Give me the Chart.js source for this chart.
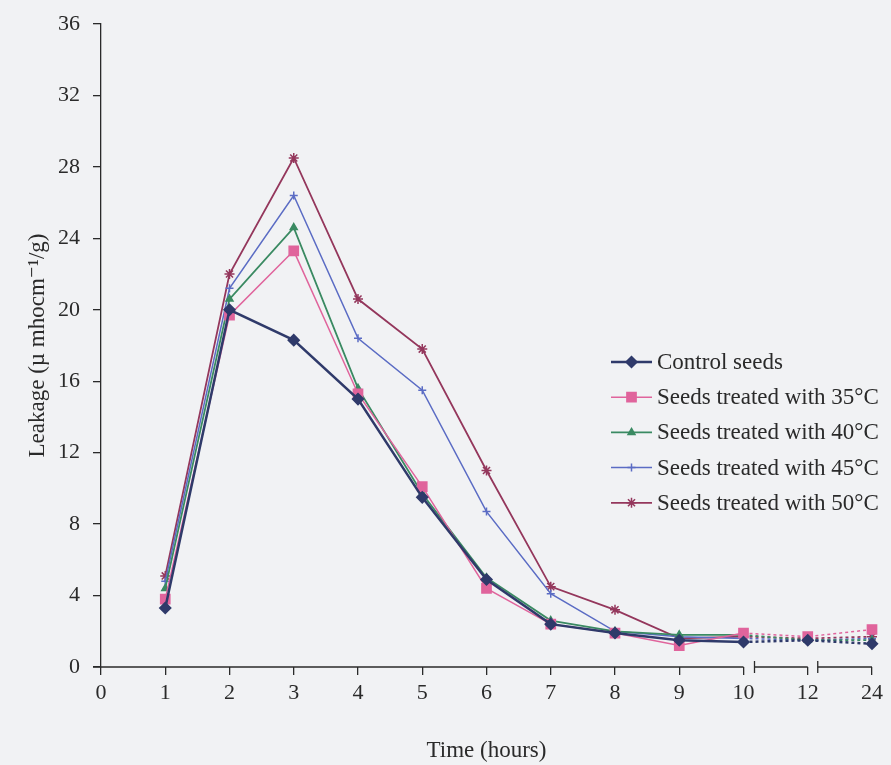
<!DOCTYPE html>
<html>
<head>
<meta charset="utf-8">
<script src="https://cdn.jsdelivr.net/npm/chart.js@4.4.1/dist/chart.umd.min.js"></script>
<style>
  html, body { margin: 0; padding: 0; background: #f1f2f4; }
  #wrap { width: 891px; height: 765px; }
</style>
</head>
<body>
<div id="wrap"><canvas id="chart" width="891" height="765"></canvas></div>
<script>
// time points (hours) - 0 is only an axis label, no data there
var timeLabels = ["0", "1", "2", "3", "4", "5", "6", "7", "8", "9", "10", "12", "24"];
var yTicks = [0, 4, 8, 12, 16, 20, 24, 28, 32, 36];

var controlSeeds = [null, 3.3, 20.0, 18.3, 15.0, 9.5, 4.9, 2.4, 1.9, 1.5, 1.4, 1.5, 1.3];
var treated35 = [null, 3.8, 19.7, 23.3, 15.3, 10.1, 4.4, 2.4, 1.9, 1.2, 1.9, 1.7, 2.1];
var treated40 = [null, 4.4, 20.6, 24.6, 15.6, 9.7, 5.0, 2.6, 2.0, 1.8, 1.8, 1.5, 1.5];
var treated45 = [null, 4.8, 21.2, 26.4, 18.4, 15.5, 8.7, 4.1, 2.0, 1.7, 1.6, 1.5, 1.6];
var treated50 = [null, 5.1, 22.0, 28.5, 20.6, 17.8, 11.0, 4.5, 3.2, 1.6, 1.7, 1.6, 1.7];

var serif = "'Liberation Serif', 'DejaVu Serif', serif";
var textColor = "#2a2a2a";

// segments after 10 h are plotted on a broken axis -> dashed
function dashAfterBreak(ctx) { return ctx.p0DataIndex >= 10 ? [3, 3] : undefined; }

function makeSet(label, data, color, style, radius, width) {
  return {
    label: label, data: data, borderColor: color, backgroundColor: color,
    pointStyle: style, pointRadius: radius, pointBorderColor: color, pointBackgroundColor: color,
    pointBorderWidth: 1.5, borderWidth: width, tension: 0,
    segment: { borderDash: dashAfterBreak }
  };
}

var bgPlugin = {
  id: "bg",
  beforeDraw: function (chart) {
    var c = chart.ctx;
    c.save(); c.fillStyle = "#f1f2f4"; c.fillRect(0, 0, chart.width, chart.height); c.restore();
  }
};

// broken x axis line with small caps at the breaks
var axisPlugin = {
  id: "brokenAxis",
  afterDraw: function (chart) {
    var c = chart.ctx, x = chart.scales.x, y0 = chart.chartArea.bottom;
    var p10 = x.getPixelForValue(10), p12 = x.getPixelForValue(11), p24 = x.getPixelForValue(12);
    var segs = [[x.left - 8, p10], [p10 + 11, p12], [p12 + 10, p24]];
    c.save();
    c.strokeStyle = textColor; c.lineWidth = 1.3;
    segs.forEach(function (s, i) {
      c.beginPath(); c.moveTo(s[0], y0); c.lineTo(s[1], y0); c.stroke();
      if (i > 0) { c.beginPath(); c.moveTo(s[0], y0 - 6); c.lineTo(s[0], y0 + 6); c.stroke(); }
    });
    c.restore();
  }
};

// legend drawn inside the plot, to the right
var legendPlugin = {
  id: "innerLegend",
  afterDraw: function (chart) {
    var c = chart.ctx;
    var x0 = 611, x1 = 652, top = 362, gap = 35.2;
    c.save();
    c.font = "23px " + serif;
    c.textBaseline = "middle";
    chart.data.datasets.forEach(function (ds, i) {
      var yy = top + i * gap;
      c.strokeStyle = ds.borderColor; c.lineWidth = ds.borderWidth;
      c.beginPath(); c.moveTo(x0, yy); c.lineTo(x1, yy); c.stroke();
      c.fillStyle = ds.pointBackgroundColor; c.strokeStyle = ds.pointBorderColor; c.lineWidth = 1.5;
      Chart.helpers.drawPoint(c, { pointStyle: ds.pointStyle, radius: ds.pointRadius, borderWidth: 1.5, rotation: 0 }, (x0 + x1) / 2, yy);
      c.fillStyle = textColor;
      c.fillText(ds.label, x1 + 5, yy + 1);
    });
    c.restore();
  }
};

new Chart(document.getElementById("chart").getContext("2d"), {
  type: "line",
  data: {
    labels: timeLabels,
    datasets: [
      makeSet("Control seeds", controlSeeds, "#2f3a6a", "rectRot", 5.5, 2.5),
      makeSet("Seeds treated with 35°C", treated35, "#e0649c", "rect", 6.5, 1.5),
      makeSet("Seeds treated with 40°C", treated40, "#3a8a62", "triangle", 4, 1.8),
      makeSet("Seeds treated with 45°C", treated45, "#5b6cc4", "cross", 4, 1.5),
      makeSet("Seeds treated with 50°C", treated50, "#94375c", "star", 5, 1.8)
    ]
  },
  options: {
    responsive: false,
    animation: false,
    layout: { padding: { top: 23, right: 19, left: 0, bottom: 0 } },
    plugins: { legend: { display: false }, tooltip: { enabled: false } },
    scales: {
      x: {
        type: "category",
        offset: false,
        grid: { drawOnChartArea: false, drawTicks: true, tickLength: 8, color: textColor, lineWidth: 1.3 },
        border: { display: false },
        ticks: { color: textColor, font: { family: serif, size: 22 }, padding: 5, autoSkip: false, maxRotation: 0 },
        title: { display: true, text: "Time (hours)", color: textColor, font: { family: serif, size: 23 }, padding: 0 },
        afterFit: function (s) { s.height = 98; }
      },
      y: {
        min: 0, max: 36,
        afterBuildTicks: function (s) { s.ticks = yTicks.map(function (v) { return { value: v }; }); },
        grid: { drawOnChartArea: false, drawTicks: true, tickLength: 8, color: textColor, lineWidth: 1.3 },
        border: { display: true, color: textColor, width: 1.3 },
        ticks: { color: textColor, font: { family: serif, size: 22, lineHeight: 1 }, padding: 13 },
        title: { display: true, text: "Leakage (µ mhocm⁻¹/g)", color: textColor, font: { family: serif, size: 23 }, padding: { top: 24, bottom: 0 } },
        afterFit: function (s) { s.width = 101; }
      }
    }
  },
  plugins: [bgPlugin, axisPlugin, legendPlugin]
});
</script>
</body>
</html>
